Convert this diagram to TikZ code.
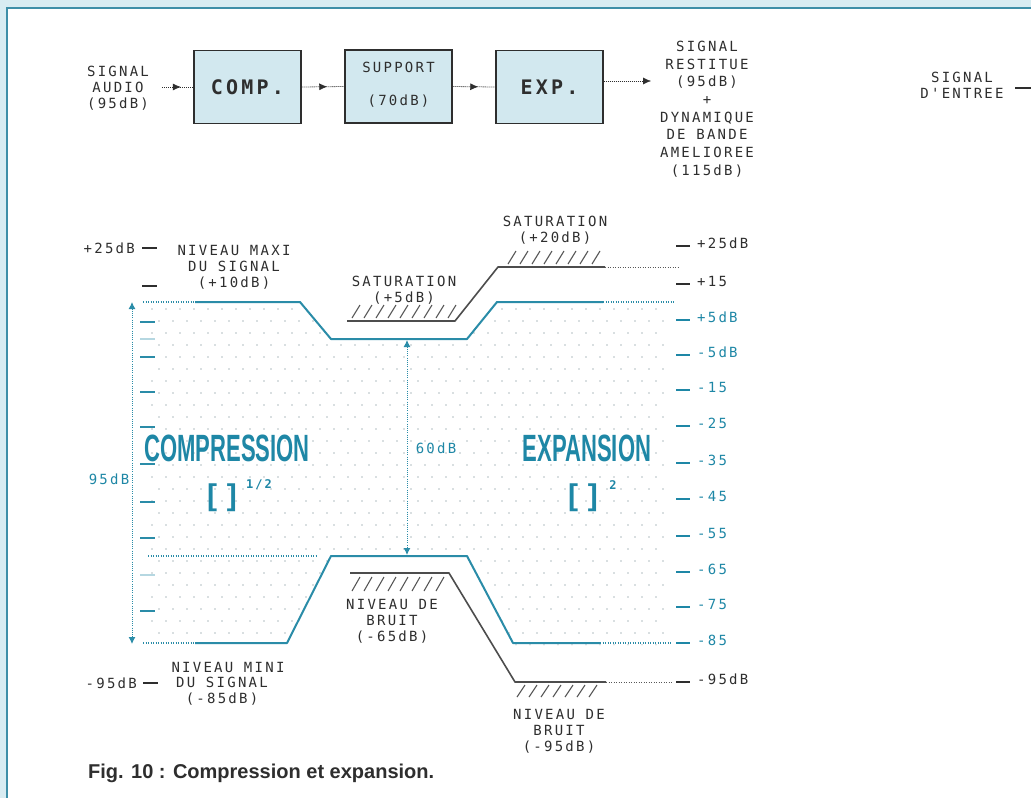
\documentclass[tikz,border=0pt]{standalone}
\usepackage{fontspec}
\usepackage{graphicx}
\usetikzlibrary{arrows.meta,decorations.markings}
\newfontfamily\plotfont[LetterSpace=16]{DejaVu Sans Mono}
\newfontfamily\capfont{Liberation Sans}
\definecolor{ink}{HTML}{2E2E2E}
\definecolor{teal1}{HTML}{2A8CA8}
\definecolor{tealtxt}{HTML}{1E87A6}
\definecolor{boxfill}{HTML}{D2E8EF}
\definecolor{band}{HTML}{D8ECF2}
\definecolor{frameline}{HTML}{3E8FA8}
\definecolor{dotc}{HTML}{B4C0C4}
\tikzset{
  lbl/.style={font=\plotfont\fontsize{14}{16}\selectfont, text=ink, inner sep=0pt, align=center},
  tlbl/.style={lbl, text=tealtxt},
  blk/.style={draw=ink, line width=1.3pt, fill=boxfill, minimum width=107pt, minimum height=73pt, inner sep=0pt, align=center},
  blktxt/.style={font=\plotfont\bfseries\fontsize{20}{22}\selectfont, text=ink},
  flow/.style={ink, line width=0.8pt, dash pattern=on 1pt off 1pt, postaction={decorate},
    decoration={markings, mark=at position 0.6 with {\arrow{Latex[length=8pt,width=7pt]}}}},
  sig/.style={teal1, line width=2pt, line join=round},
  sigdot/.style={teal1, line width=1.1pt, dash pattern=on 1pt off 1.5pt},
  lim/.style={ink!85, line width=1.6pt, line join=round},
  limdot/.style={ink!80, line width=1pt, dash pattern=on 1pt off 1.5pt},
  hatch/.style={ink!80, line width=1.1pt},
  tk/.style={line width=1.6pt},
  big/.style={text=tealtxt, inner sep=0pt},
}
\begin{document}
\begin{tikzpicture}[x=1pt,y=-1pt]
\useasboundingbox (0,0) rectangle (1031,798);
% frame
\fill[band] (0,0) rectangle (1031,798);
\fill[white] (7,8) rectangle (1031,798);
\draw[frameline, line width=1.8pt] (7,798) -- (7,8) -- (1031,8);

% ---------- block diagram ----------
\node[lbl] (audio) at (118,88) {SIGNAL\\AUDIO\\(95dB)};
\node[blk] (comp) at (247.5,87) {};
\node[blktxt] (comptx) at (comp.center) {COMP.};
\node[blk] (supp) at (398.5,86.5) {};
\node[lbl] (supptx) at (398.5,67) {SUPPORT};
\node[lbl] (suppdb) at (398.5,101) {(70dB)};
\node[blk] (exp) at (549.5,87) {};
\node[blktxt] (exptx) at (exp.center) {EXP.};
\node[lbl, font=\plotfont\fontsize{14}{17.7}\selectfont] (rest) at (707,109)
  {SIGNAL\\RESTITUE\\(95dB)\\+\\DYNAMIQUE\\DE BANDE\\AMELIOREE\\(115dB)};
\node[lbl] (entree) at (962,85) {SIGNAL\\D'ENTREE};
\coordinate (restin) at (651,81);
\coordinate (entA) at (1015,88);
\coordinate (entB) at (1031,88);

\draw[flow] ([xshift=-31pt]comp.west) -- (comp.west);
\draw[flow] (comp.east) -- (supp.west);
\draw[flow] (supp.east) -- (exp.west);
\draw[ink, line width=0.8pt, dash pattern=on 1pt off 1pt] ([yshift=6pt]exp.east) -- ([xshift=-6pt]restin);
\draw[ink, -{Latex[length=8pt,width=7pt]}] ([xshift=-8pt]restin) -- (restin);
\draw[ink, line width=1.6pt] (entA) -- (entB);

% ---------- dotted fill ----------
\begin{scope}
\clip (143,302) -- (300,302) -- (331,339) -- (467,339) -- (497,302) -- (665,302) -- (665,645)
  -- (513,645) -- (467,556) -- (331,556) -- (287,643) -- (143,643) -- cycle;
\foreach \r in {0,...,28} {
  \foreach \c in {0,...,37} {
    \fill[dotc] ({152+\c*14+mod(\r,2)*7}, {309+\r*12}) circle (0.9pt);
  }
}
\end{scope}

% ---------- left axis ----------
\coordinate (axtop) at (132,302);
\coordinate (axbot) at (132,644);
\draw[teal1, line width=1pt, dash pattern=on 1pt off 1.2pt,
  {Latex[length=7pt,width=7pt]}-{Latex[length=7pt,width=7pt]}] (axtop) -- (axbot);
\foreach \yy in {322,357,392,427,464,502,538,611} {
  \draw[teal1, tk] (140,\yy) -- (155,\yy);
}
\foreach \yy in {339,575} {
  \draw[teal1!35, tk] (140,\yy) -- (155,\yy);
}
\node[tlbl] (d95) at (109,479) {95dB};

% left labels
\node[lbl, anchor=east] (lp25) at (135,248) {+25dB};
\draw[ink, tk] (142,248) -- (157,248);
\draw[ink, tk] (142,286) -- (157,286);
\node[lbl] (maxi) at (234,267) {NIVEAU MAXI\\DU SIGNAL\\(+10dB)};
\node[lbl] (mini1) at (228,667) {NIVEAU MINI};
\node[lbl] (mini2) at (222,691) {DU SIGNAL\\(-85dB)};
\node[lbl, anchor=east] (lm95) at (137,683) {-95dB};
\draw[ink, tk] (143,683) -- (158,683);

% ---------- signal envelope ----------
\draw[sigdot] (143,302) -- (195,302);
\draw[sig] (195,302) -- (300,302) -- (331,339) -- (467,339) -- (497,302) -- (603,302);
\draw[sigdot] (603,302) -- (675,302);
\draw[sigdot] (143,643) -- (195,643);
\draw[sig] (195,643) -- (287,643) -- (331,556) -- (467,556) -- (513,643) -- (600,643);
\draw[sigdot] (600,643) -- (672,643);
\draw[sigdot] (148,556) -- (317,556);

% 60 dB arrow
\coordinate (s60a) at (407,340);
\coordinate (s60b) at (407,555);
\draw[teal1, line width=1pt, dash pattern=on 1pt off 1.2pt,
  {Latex[length=7pt,width=7pt]}-{Latex[length=7pt,width=7pt]}] (s60a) -- (s60b);
\node[tlbl] (db60) at (436,448) {60dB};

% ---------- saturation / noise limits ----------
\draw[lim] (347,321) -- (455,321) -- (498,267) -- (605,267);
\draw[limdot] (605,267) -- (678,267);
\foreach \x in {352,364,...,448} { \draw[hatch] (\x,318) -- (\x+8,305); }
\foreach \x in {508,520,...,596} { \draw[hatch] (\x,264) -- (\x+8,251); }
\draw[lim] (350,573) -- (449,573) -- (515,682) -- (606,682);
\draw[limdot] (606,682) -- (673,682);
\foreach \x in {352,364,...,440} { \draw[hatch] (\x,591) -- (\x+8,577); }
\foreach \x in {517,529,...,593} { \draw[hatch] (\x,697) -- (\x+8,685); }

\node[lbl] (sat5) at (404,290) {SATURATION\\(+5dB)};
\node[lbl] (sat20) at (555,230) {SATURATION\\(+20dB)};
\node[lbl] (br65) at (392,621) {NIVEAU DE\\BRUIT\\(-65dB)};
\node[lbl] (br95) at (559,731) {NIVEAU DE\\BRUIT\\(-95dB)};

% ---------- right scale ----------
\foreach \yy/\tx/\cc in {243/+25dB/ink, 281/+15/ink, 317/+5dB/tealtxt, 352/-5dB/tealtxt,
   387/-15/tealtxt, 423/-25/tealtxt, 460/-35/tealtxt, 496/-45/tealtxt, 533/-55/tealtxt,
   569/-65/tealtxt, 604/-75/tealtxt, 640/-85/tealtxt, 679/-95dB/ink} {
  \draw[\cc, tk] (676,\yy+3) -- (690,\yy+3);
  \node[lbl, text=\cc, anchor=west] (r\yy) at (697,\yy) {\tx};
}

% ---------- big labels ----------
\node[big] (comprtx) at (227,448) {\scalebox{0.58}[1]{\capfont\bfseries\fontsize{38}{38}\selectfont COMPRESSION}};
\node[big] (brk1) at (222,498) {\capfont\bfseries\fontsize{30}{30}\selectfont [\,\,]};
\node[big] (pow1) at (259,485) {\plotfont\bfseries\fontsize{12}{12}\selectfont 1/2};
\node[big] (expatx) at (587,448) {\scalebox{0.58}[1]{\capfont\bfseries\fontsize{38}{38}\selectfont EXPANSION}};
\node[big] (brk2) at (583,498) {\capfont\bfseries\fontsize{30}{30}\selectfont [\,\,]};
\node[big] (pow2) at (613,485) {\plotfont\bfseries\fontsize{12}{12}\selectfont 2};

% caption
\node[anchor=west, inner sep=0pt, text=ink] (caption) at (88,773)
  {\capfont\bfseries\fontsize{20}{20}\selectfont Fig. 10 : Compression et expansion.};
\end{tikzpicture}
\end{document}
